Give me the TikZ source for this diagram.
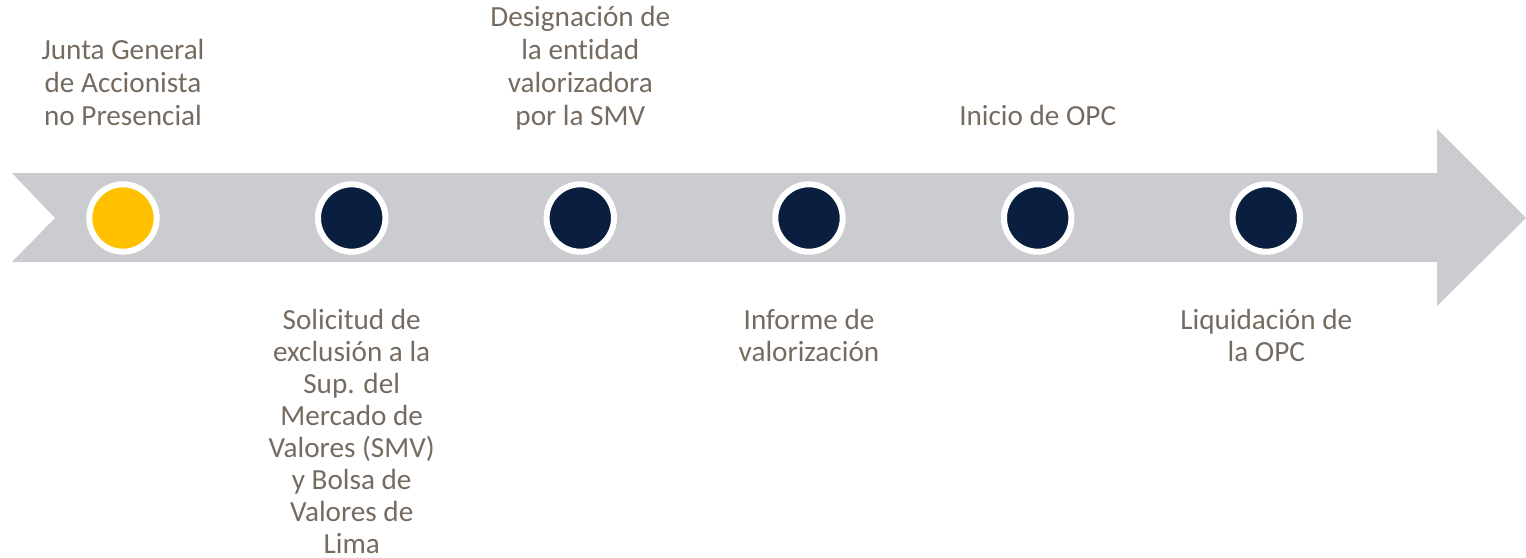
\documentclass[tikz,border=0pt]{standalone}
\usepackage{fontspec}
\setmainfont{Carlito}[Ligatures=NoCommon]
\usepackage{tikz}
\usetikzlibrary{positioning,calc}
\definecolor{flecha}{HTML}{CBCCCF}
\definecolor{hito}{HTML}{0A1F40}
\definecolor{actual}{HTML}{FFC000}
\definecolor{texto}{HTML}{766B60}

\begin{document}
\begin{tikzpicture}[x=0.5pt,y=-0.5pt,
                    hitonode/.style={circle,draw=white,line width=3pt,fill=hito,
                                     minimum size=33.7pt,inner sep=0pt},
                    arriba/.style={anchor=south,align=center,inner sep=0pt,
                                   text depth=0pt,text=texto,
                                   font=\fontsize{14.6pt}{16.5pt}\selectfont},
                    abajo/.style={anchor=north,align=center,inner sep=0pt,
                                  text=texto,
                                  font=\fontsize{14.6pt}{16pt}\selectfont}]

  \useasboundingbox (0,0) rectangle (1526,557);

  % flecha de fondo
  \fill[flecha] (12,173) -- (1437,173) -- (1437,129) -- (1526,218)
        -- (1437,306) -- (1437,262) -- (12,262) -- (55,218) -- cycle;

  % hitos
  \node[hitonode,fill=actual] at(123,218) (hito1) {};
  \node[hitonode] at(351.7,218) (hito2) {};
  \node[hitonode] at(580.3,218) (hito3) {};
  \node[hitonode] at(809,218) (hito4) {};
  \node[hitonode] at(1037.7,218) (hito5) {};
  \node[hitonode] at(1266.3,218) (hito6) {};

  % textos
  \node[arriba] at(123,126) (junta) {Junta General\\de Accionista\\no Presencial};
  \node[arriba] at(580.3,126) (designa) {Designación de\\la entidad\\valorizadora\\por la SMV};
  \node[arriba] at(1037.7,126) (inicio) {Inicio de OPC};
  \node[abajo] at(351.7,309) (solicitud) {Solicitud de\\exclusión a la\\Sup. del\\Mercado de\\Valores (SMV)\\y Bolsa de\\Valores de\\Lima};
  \node[abajo] at(809,309) (informe) {Informe de\\valorización};
  \node[abajo] at(1266.3,309) (liquida) {Liquidación de\\la OPC};

\end{tikzpicture}
\end{document}
